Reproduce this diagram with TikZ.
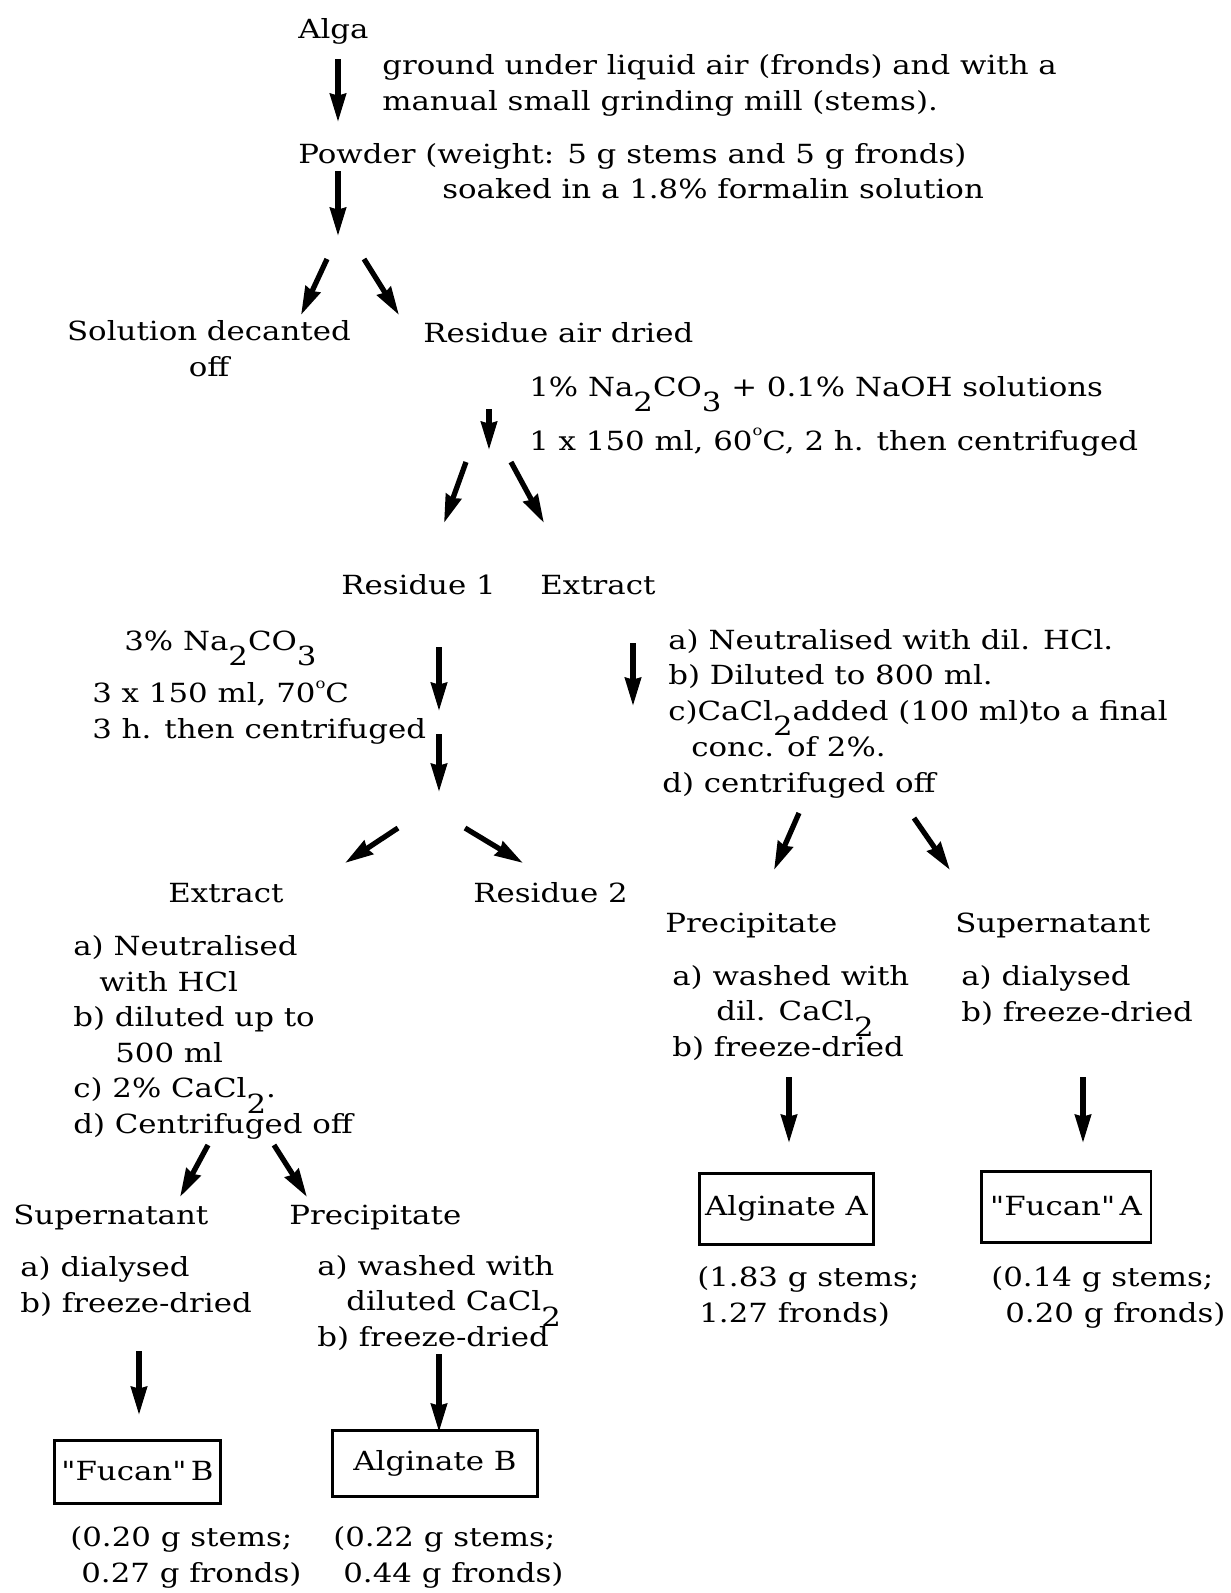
\documentclass[tikz,border=0pt]{standalone}
\usepackage{fontspec}
\setmainfont{DejaVu Serif}[FakeStretch=1.17, Ligatures=TeXOff]
\usetikzlibrary{arrows.meta, positioning}

% typed subscripts sit almost a half line down
\newcommand{\lo}[1]{\raisebox{-0.6em}[0pt][0pt]{#1}}
\newcommand{\degr}{\raisebox{0.55em}[0pt][0pt]{\footnotesize o}}

\begin{document}
\begin{tikzpicture}[x=0.02cm, y=-0.02cm,
  txt/.style={anchor=base west, inner sep=0pt, align=left,
    font=\fontsize{15}{20.2}\selectfont},
  prodbox/.style={draw, line width=1.7pt, inner sep=0pt,
    font=\fontsize{15}{20.2}\selectfont},
  arr/.style={-{Stealth[length=16pt, width=9pt, inset=1pt]}, line width=3pt}
]
\useasboundingbox (0,0) rectangle (1231,1593);

% first steps (multi-line nodes sit on their last line)
\node[txt] (alga) at (298,38) {Alga};
\node[txt] (grind) at (382,110) {ground under liquid air (fronds) and with a\\manual small grinding mill (stems).};
\node[txt] (powder) at (298,163) {Powder};
\node[txt] (weight) at (425,163) {(weight: 5 g stems and 5 g fronds)};
\node[txt] (soak) at (442,198) {soaked in a 1.8\% formalin solution};
\node[txt, align=center, anchor=base] (decant) at (209,376) {Solution decanted\\off};
\node[txt] (dried) at (423,342) {Residue air dried};
\node[txt] (alkali) at (529,396) {1\% Na\lo{2}CO\lo{3} + 0.1\% NaOH solutions};
\node[txt] (cond1) at (529,450) {1 x 150 ml, 60\degr C, 2 h. then centrifuged};
\node[txt] (res1) at (341,594) {Residue 1};
\node[txt] (ext1) at (540,594) {Extract};

% left branch
\node[txt] (carb) at (124,650) {3\% Na\lo{2}CO\lo{3}};
\node[txt] (cond2) at (92,738) {3 x 150 ml, 70\degr C\\3 h. then centrifuged};
\node[txt] (ext2) at (168,902) {Extract};
\node[txt] (res2) at (473,902) {Residue 2};
\node[txt] (neut2) at (73,1133) {a) Neutralised\\\hspace*{0.52cm}with HCl\\b) diluted up to\\\hspace*{0.84cm}500 ml\\c) 2\% CaCl\lo{2}.\\d) Centrifuged off};
\node[txt] (sup2) at (13,1224) {Supernatant};
\node[txt] (prec2) at (289,1224) {Precipitate};
\node[txt] (dial2) at (20,1312) {a) dialysed\\b) freeze-dried};
\node[txt] (wash2) at (317,1346) {a) washed with\\\hspace*{0.58cm}diluted CaCl\lo{2}\\b) freeze-dried};
\node[prodbox, minimum width=3.34cm, minimum height=1.26cm] (fucB) at (137.5,1471.5) {"Fucan"\,B};
\node[prodbox, minimum width=4.12cm, minimum height=1.32cm] (algB) at (435,1463) {Alginate B};
\node[txt] (yFB) at (70,1582) {(0.20 g stems;\\\hspace*{0.22cm}0.27 g fronds)};
\node[txt] (yAB) at (333,1582) {(0.22 g stems;\\\hspace*{0.2cm}0.44 g fronds)};

% right branch
\node[txt] (neut1) at (668,720) {a) Neutralised with dil. HCl.\\b) Diluted to 800 ml.\\c)CaCl\lo{2}added (100 ml)to a final};
\node[txt] (conc) at (691,756) {conc. of 2\%.};
\node[txt] (cent1) at (662,792) {d) centrifuged off};
\node[txt] (prec1) at (665,932) {Precipitate};
\node[txt] (sup1) at (955,932) {Supernatant};
\node[txt] (wash1) at (672,1056) {a) washed with\\\hspace*{0.88cm}dil. CaCl\lo{2}\\b) freeze-dried};
\node[txt] (dial1) at (961,1021) {a) dialysed\\b) freeze-dried};
\node[prodbox, minimum width=3.5cm, minimum height=1.42cm] (algA) at (786.5,1208.5) {Alginate A};
\node[prodbox, minimum width=3.4cm, minimum height=1.42cm] (fucA) at (1066,1206.5) {"Fucan"\,A};
\node[txt] (yAA) at (697,1322) {(1.83 g stems;\\\hspace*{0.04cm}1.27 fronds)};
\node[txt] (yFA) at (991,1322) {(0.14 g stems;\\\hspace*{0.28cm}0.20 g fronds)};

% arrow ends
\coordinate (s1) at (338,59);   \coordinate (e1) at (338,122);
\coordinate (s2) at (338,171);  \coordinate (e2) at (338,236);
\coordinate (s3) at (327,259);  \coordinate (e3) at (301,315);
\coordinate (s4) at (364,259);  \coordinate (e4) at (399,315);
\coordinate (s5) at (489,409);  \coordinate (e5) at (489,450);
\coordinate (s6) at (466,462);  \coordinate (e6) at (444,523);
\coordinate (s7) at (511,462);  \coordinate (e7) at (544,523);
\coordinate (s8) at (439,647);  \coordinate (e8) at (439,711);
\coordinate (s9) at (439,734);  \coordinate (e9) at (439,792);
\coordinate (s10) at (633,643); \coordinate (e10) at (633,706);
\coordinate (s11) at (398,828); \coordinate (e11) at (345,863);
\coordinate (s12) at (465,828); \coordinate (e12) at (523,863);
\coordinate (s13) at (799,813); \coordinate (e13) at (774,870);
\coordinate (s14) at (914,818); \coordinate (e14) at (950,870);
\coordinate (s15) at (208,1145); \coordinate (e15) at (180,1197);
\coordinate (s16) at (274,1145); \coordinate (e16) at (307,1197);
\coordinate (s17) at (789,1077); \coordinate (e17) at (789,1143);
\coordinate (s18) at (1083,1077); \coordinate (e18) at (1083,1143);
\coordinate (s19) at (139,1351); \coordinate (e19) at (139,1415);
\coordinate (s20) at (439,1354); \coordinate (e20) at (439,1432);

\foreach \i in {1,...,20}
  \draw[arr] (s\i) -- (e\i);
\end{tikzpicture}
\end{document}
